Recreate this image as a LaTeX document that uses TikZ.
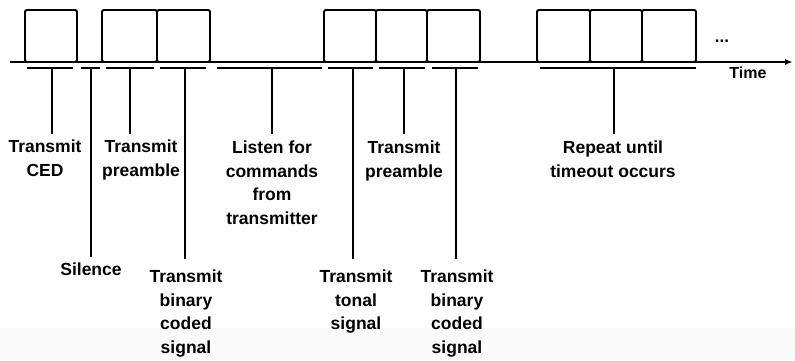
\documentclass[tikz,border=0pt]{standalone}
\usepackage{fontspec}
\setmainfont{Liberation Sans}
\usetikzlibrary{arrows.meta}
\begin{document}
\begin{tikzpicture}[x=1pt,y=-1pt,
  slot/.style={draw=black,line width=1.8pt,rounded corners=1.5pt},
  axisline/.style={line width=1.8pt,-{Latex[length=8pt,width=6pt]}},
  uline/.style={line width=1.5pt},
  tick/.style={line width=1.5pt},
  lbl/.style={anchor=north,inner sep=0pt,align=center,font=\bfseries\fontsize{17.5}{23.5}\selectfont}]
\useasboundingbox (0,0) rectangle (795,360);
\fill[black!2] (0,328) rectangle (795,360);
% time axis
\coordinate (a0) at (10,62);
\coordinate (a1) at (793,62);
\draw[axisline] (a0) -- (a1);
% boxes
\foreach \xa/\xb/\n in {25/77/b1,102/157/b2,157/210/b3,324/376/b4,376/427/b5,427/480/b6,537/590/b7,590/642/b8,642/696/b9}{
  \draw[slot] (\xa,62) rectangle (\xb,10);
}
\node[inner sep=0pt,font=\bfseries\fontsize{17}{17}\selectfont] (dots) at (722,41) {...};
\node[inner sep=0pt,font=\bfseries\fontsize{16}{16}\selectfont] (time) at (748,73) {Time};
% underlines and ticks: x1/x2/tickx/end/name
\foreach \xa/\xb/\xt/\ye/\n in {27/73/52/134/u1, 81/100/91/257/u2, 106/154/130/134/u3, 160/206/185/259/u4, 217/322/272/134/u5, 328/373/353/259/u6, 379/425/404/134/u7, 432/478/456/259/u8, 540/696/614/134/u9}{
  \coordinate (\n a) at (\xa,68);
  \coordinate (\n b) at (\xb,68);
  \coordinate (\n t) at (\xt,68);
  \coordinate (\n e) at (\xt,\ye);
  \draw[uline] (\n a) -- (\n b);
  \draw[tick] (\n t) -- (\n e);
}
% labels
\node[lbl] (l1) at (45,140) {Transmit\\CED};
\node[lbl] (l2) at (91,263) {Silence};
\node[lbl] (l3) at (141,140) {Transmit\\preamble};
\node[lbl] (l4) at (186,270) {Transmit\\binary\\coded\\signal};
\node[lbl] (l5) at (272,141) {Listen for\\commands\\from\\transmitter};
\node[lbl] (l6) at (356,270) {Transmit\\tonal\\signal};
\node[lbl] (l7) at (404,141) {Transmit\\preamble};
\node[lbl] (l8) at (457,270) {Transmit\\binary\\coded\\signal};
\node[lbl] (l9) at (613,141) {Repeat until\\timeout occurs};
\end{tikzpicture}
\end{document}
